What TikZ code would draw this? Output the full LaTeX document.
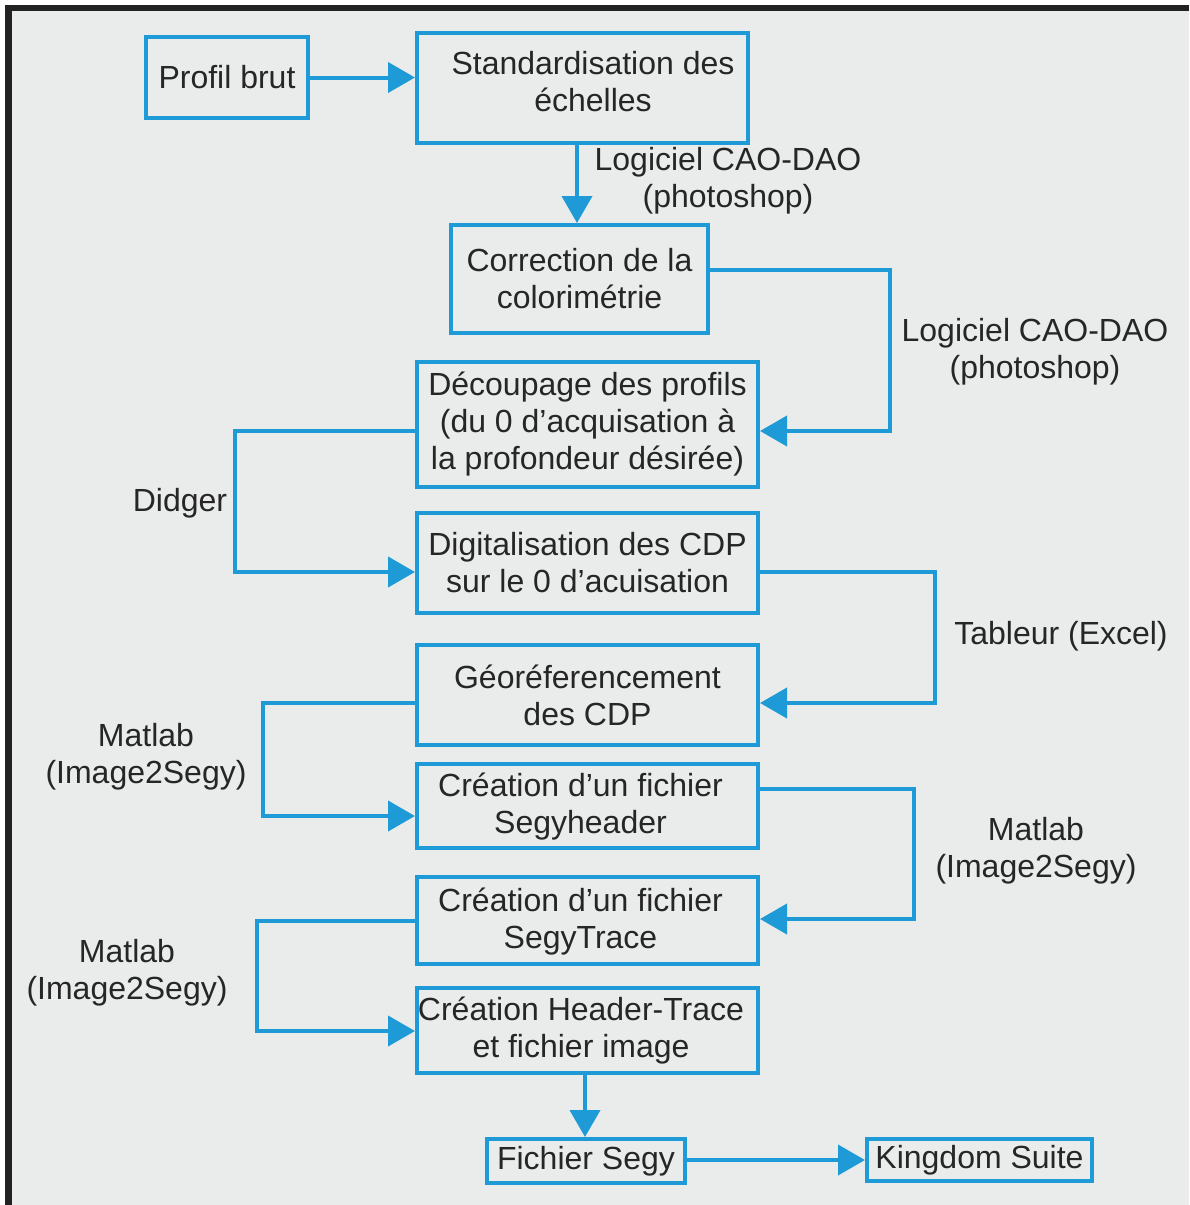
\documentclass[tikz,border=0pt]{standalone}
\usepackage{fontspec}
\setmainfont{Liberation Sans}
\usetikzlibrary{arrows.meta}
\definecolor{bg}{RGB}{234,235,235}
\definecolor{frame}{RGB}{34,34,34}
\definecolor{blu}{RGB}{30,154,214}
\definecolor{ink}{RGB}{38,38,38}
\tikzset{
  box/.style={draw=blu, line width=4pt, inner sep=0pt, align=center, text=ink,
    font=\fontsize{32}{37}\selectfont},
  lbl/.style={inner sep=0pt, align=center, text=ink, font=\fontsize{32}{37}\selectfont},
  conn/.style={draw=blu, line width=4pt, -{Triangle[length=27pt,width=30pt]}}
}
\begin{document}
\begin{tikzpicture}[x=1pt,y=-1pt]
\useasboundingbox (0,0) rectangle (1189,1205);
\fill[white] (0,0) rectangle (1189,1205);
\fill[frame] (5,5) rectangle (1189,1205);
\fill[bg] (12,11) rectangle (1189,1205);

% boxes
\node[box, minimum width=162pt, minimum height=81pt] (brut) at (227,77.5) {Profil brut};
\node[box, minimum width=331pt, minimum height=110pt] (std) at (582.5,88) {};
\node[lbl] (stdtext) at (593,82) {Standardisation des\\échelles};
\node[box, minimum width=257pt, minimum height=108pt] (cor) at (579.5,279) {Correction de la\\colorimétrie};
\node[box, minimum width=341pt, minimum height=125pt] (dec) at (587.5,424.5) {Découpage des profils\\(du 0 d’acquisation à\\la profondeur désirée)};
\node[box, minimum width=341pt, minimum height=100pt] (dig) at (587.5,563) {Digitalisation des CDP\\sur le 0 d’acuisation};
\node[box, minimum width=341pt, minimum height=100pt] (geo) at (587.5,695) {Géoréferencement\\des CDP};
\node[box, minimum width=341pt, minimum height=84pt] (sh) at (587.5,806) {};
\node[lbl] (shtext) at (580.5,807) {Création d’un fichier\\Segyheader};
\node[box, minimum width=341pt, minimum height=87pt] (st) at (587.5,920.5) {};
\node[lbl] (sttext) at (580.5,922) {Création d’un fichier\\SegyTrace};
\node[box, minimum width=341pt, minimum height=85pt] (ht) at (587.5,1030.5) {};
\node[lbl] (httext) at (581,1030.5) {Création Header-Trace\\et fichier image};
\node[box, minimum width=198pt, minimum height=44pt] (fs) at (586,1161) {Fichier Segy};
\node[box, minimum width=225pt, minimum height=42pt] (ks) at (979.5,1160) {Kingdom Suite};

% labels
\node[lbl] (l1) at (728,181) {Logiciel CAO-DAO\\(photoshop)};
\node[lbl] (l2) at (1035,352) {Logiciel CAO-DAO\\(photoshop)};
\node[lbl] (l3) at (180,503) {Didger};
\node[lbl] (l4) at (1061,636) {Tableur (Excel)};
\node[lbl] (l5) at (146,757) {Matlab\\(Image2Segy)};
\node[lbl] (l6) at (1036,851) {Matlab\\(Image2Segy)};
\node[lbl] (l7) at (127,973) {Matlab\\(Image2Segy)};

% connectors
\draw[conn] (brut.east) -- (brut.east -| std.west);
\draw[conn] ([xshift=-5.5pt]std.south) -- ([xshift=-2.5pt]cor.north);
\draw[conn] ([yshift=9pt]cor.east) -- (890,270) -- (890,431) -- ([yshift=-6.5pt]dec.east);
\draw[conn] ([yshift=-6.5pt]dec.west) -- (235,431) -- (235,572) -- ([yshift=-9pt]dig.west);
\draw[conn] ([yshift=-9pt]dig.east) -- (935,572) -- (935,703) -- ([yshift=-8pt]geo.east);
\draw[conn] ([yshift=-8pt]geo.west) -- (263,703) -- (263,816) -- ([yshift=-10pt]sh.west);
\draw[conn] ([yshift=17pt]sh.east) -- (914,789) -- (914,919) -- ([yshift=1.5pt]st.east);
\draw[conn] ([yshift=-0.5pt]st.west) -- (257,921) -- (257,1031) -- ([yshift=-0.5pt]ht.west);
\draw[conn] ([xshift=-2.5pt]ht.south) -- ([xshift=-1pt]fs.north);
\draw[conn] ([yshift=1pt]fs.east) -- ([yshift=0pt]ks.west);
\end{tikzpicture}
\end{document}
